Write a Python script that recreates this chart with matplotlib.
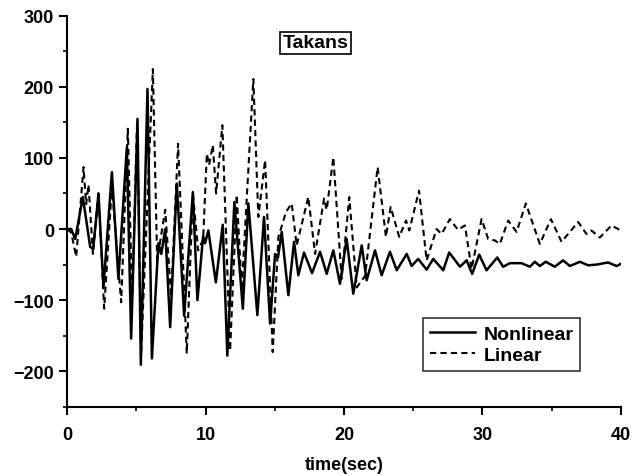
import matplotlib
matplotlib.use("Agg")
import matplotlib.pyplot as plt
from matplotlib.ticker import MultipleLocator

plt.rcParams['font.family'] = ['Liberation Sans', 'DejaVu Sans']
plt.rcParams['font.weight'] = 'bold'

# Nonlinear response (solid), peaks/troughs
t_nonlin = [0, 0.29, 0.58, 1.13, 1.66, 1.88, 2.26, 2.62, 3.23, 3.70,
            4.31, 4.62, 5.08, 5.32, 5.80, 6.12, 6.59, 6.80, 7.08, 7.44,
            7.92, 8.45, 9.08, 9.41, 9.82, 9.96, 10.2, 10.74, 11.24, 11.57,
            12.08, 12.69, 13.09, 13.74, 14.22, 14.66, 15.02, 15.23, 15.5, 15.98,
            16.39, 16.7, 17.11, 17.69, 18.27, 18.75, 19.23, 19.71, 20.19, 20.67,
            21.28, 21.64, 22.24, 22.72, 23.32, 23.81, 24.53, 24.89, 25.36, 25.97,
            26.45, 27.17, 27.6, 28.38, 28.86, 29.26, 29.77, 30.3, 31.07, 31.5,
            31.99, 32.83, 33.43, 33.79, 34.15, 34.58, 35.23, 35.83, 36.32, 37.04,
            37.64, 38.24, 39.08, 39.69, 40.0]
v_nonlin = [0, 0, -14, 45, -25, -28, 50, -82, 80, -70,
            115, -154, 155, -191, 197, -182, -20, -35, 0, -138,
            64, -122, 52, -100, -10, -20, -2, -75, 6, -178,
            38, -112, 36, -121, 17, -133, -35, -40, -4, -93,
            -18, -65, -33, -62, -32, -63, -30, -77, -14, -91,
            -23, -72, -30, -65, -32, -58, -35, -52, -42, -57,
            -42, -58, -33, -53, -44, -63, -36, -58, -40, -53,
            -48, -48, -53, -46, -52, -46, -53, -44, -52, -46,
            -51, -50, -47, -52, -49]

# Linear response (dashed)
t_lin = [0, 0.29, 0.65, 1.18, 1.37, 1.54, 1.86, 2.26, 2.67, 3.23,
         3.9, 4.38, 4.69, 5.05, 5.34, 6.19, 6.5, 7.08, 7.51, 8.01,
         8.64, 9.08, 9.46, 9.82, 10.09, 10.25, 10.52, 10.76, 11.21, 11.77,
         12.25, 12.61, 13.45, 13.81, 14.3, 14.85, 15.26, 15.81, 16.22, 16.58,
         17.42, 17.91, 18.56, 18.75, 19.23, 19.83, 20.38, 20.92, 21.52, 22.43,
         23.03, 23.37, 23.99, 24.48, 24.72, 25.42, 25.97, 26.69, 27.05, 27.65,
         28.23, 28.74, 29.22, 29.94, 30.42, 30.9, 31.26, 31.86, 32.47, 33.14,
         34.15, 34.95, 35.72, 36.92, 37.52, 37.88, 38.48, 39.33, 40]
v_lin = [0, -5, -39, 87, 35, 62, -35, 50, -112, 60,
         -103, 141, -100, 150, -175, 225, -44, 27, -95, 120,
         -175, 50, -30, -15, 106, 90, 118, 50, 146, -171,
         48, -85, 211, 17, 97, -173, -11, 24, 36, -23,
         45, -35, 43, 27, 101, -70, 45, -82, -66, 87,
         -11, 31, -11, 12, -2, 54, -44, 0, -7, 14,
         -1, 5, -56, 14, -14, -16, -21, 12, -4, 36,
         -21, 14, -18, 10, -7, -2, -12, 5, -2]

fig = plt.figure(figsize=(6.4, 4.77), dpi=100)
ax = fig.add_axes([0.105, 0.145, 0.865, 0.82])

ax.plot(t_nonlin, v_nonlin, color='black', lw=1.8, solid_joinstyle='round',
        label='Nonlinear')
ax.plot(t_lin, v_lin, color='black', lw=1.5, ls=(0, (3, 2)),
        dash_joinstyle='round', label='Linear')

ax.set_xlim(0, 40)
ax.set_ylim(-250, 300)
ax.xaxis.set_major_locator(MultipleLocator(10))
ax.xaxis.set_minor_locator(MultipleLocator(5))
ax.yaxis.set_major_locator(MultipleLocator(100))
ax.yaxis.set_minor_locator(MultipleLocator(50))
ax.tick_params(which='major', direction='out', length=6, width=1.5, labelsize=13)
ax.tick_params(axis='x', which='major', pad=8)
ax.tick_params(which='minor', direction='out', length=3, width=1.2)
for s in ['top', 'right']:
    ax.spines[s].set_visible(False)
for s in ['left', 'bottom']:
    ax.spines[s].set_linewidth(1.5)

ax.set_xlabel('time(sec)', fontsize=13, fontweight='bold', labelpad=9)

ax.text(0.449, 0.931, 'Takans', transform=ax.transAxes, ha='center', va='center',
        fontsize=14, fontweight='bold',
        bbox=dict(boxstyle='square,pad=0.12', fc='white', ec='black', lw=1.2))

leg = ax.legend(loc='lower left', bbox_to_anchor=(0.643, 0.092), borderaxespad=0,
                frameon=True, fancybox=False, edgecolor='black',
                prop={'size': 14, 'weight': 'bold'},
                handlelength=2.3, borderpad=0.35, labelspacing=0.2, handletextpad=0.45)
leg.get_frame().set_linewidth(1.2)

fig.savefig('out.png', dpi=100)
